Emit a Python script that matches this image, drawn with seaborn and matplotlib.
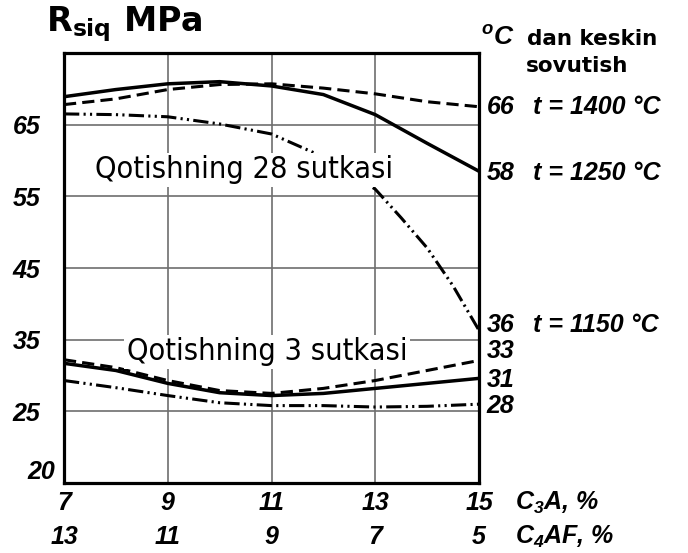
import matplotlib
matplotlib.use('Agg')
import matplotlib.pyplot as plt
import matplotlib.transforms as mtransforms
import seaborn as sns

# C3A content, % (bottom row); C4AF = 20 - C3A (second row)
c3a = [7, 8, 9, 10, 11, 12, 13, 14, 15]
c3a_steep = [7, 8, 9, 10, 11, 12, 13, 13.5, 14, 14.5, 15]
c3a_ticks = [7, 9, 11, 13, 15]
c4af_ticks = [13, 11, 9, 7, 5]
y_ticks = [25, 35, 45, 55, 65]

# strength after 28 days, MPa
r28_1400 = [67.8, 68.6, 69.9, 70.6, 70.7, 70.1, 69.3, 68.2, 67.5]
r28_1250 = [68.9, 69.9, 70.7, 71.0, 70.4, 69.2, 66.4, 62.4, 58.5]
r28_1150 = [66.5, 66.4, 66.1, 65.1, 63.7, 60.5, 56.0, 52.0, 47.8, 42.5, 36.3]

# strength after 3 days, MPa
r3_1400 = [32.2, 31.1, 29.3, 27.9, 27.5, 28.2, 29.3, 30.7, 32.1]
r3_1250 = [31.7, 30.7, 28.9, 27.6, 27.2, 27.5, 28.2, 28.9, 29.6]
r3_1150 = [29.3, 28.3, 27.2, 26.2, 25.8, 25.8, 25.6, 25.7, 26.0]

# end labels (value, text) as printed on the chart
end_values = ['66', '58', '36', '33', '31', '28']
end_y = [67.5, 58.3, 37.0, 33.4, 29.4, 25.8]
temp_labels = ['t = 1400 °C', 't = 1250 °C', 't = 1150 °C']

sns.set_style('white')
plt.rcParams['font.family'] = ['Liberation Sans', 'DejaVu Sans']
plt.rcParams['text.color'] = 'black'
plt.rcParams['xtick.color'] = 'black'
plt.rcParams['ytick.color'] = 'black'
plt.rcParams['mathtext.fontset'] = 'custom'
plt.rcParams['mathtext.rm'] = 'Liberation Sans:bold:italic'
plt.rcParams['mathtext.it'] = 'Liberation Sans:bold:italic'
plt.rcParams['mathtext.sf'] = 'DejaVu Sans:bold'

fig = plt.figure(figsize=(6.88, 5.53), dpi=100)
ax = fig.add_axes([64 / 688, 1 - 483 / 553, 415 / 688, 430 / 553])

solid = '-'
dashed = (0, (4, 2))
dashdot2 = (0, (5, 1.4, 0.7, 1.4, 0.7, 1.4))

sns.lineplot(x=c3a, y=r28_1400, ax=ax, color='black', linewidth=2.2, linestyle=dashed)
sns.lineplot(x=c3a, y=r28_1250, ax=ax, color='black', linewidth=2.5, linestyle=solid)
sns.lineplot(x=c3a_steep, y=r28_1150, ax=ax, color='black', linewidth=2.2, linestyle=dashdot2)
sns.lineplot(x=c3a, y=r3_1400, ax=ax, color='black', linewidth=2.2, linestyle=dashed)
sns.lineplot(x=c3a, y=r3_1250, ax=ax, color='black', linewidth=2.5, linestyle=solid)
sns.lineplot(x=c3a, y=r3_1150, ax=ax, color='black', linewidth=2.2, linestyle=dashdot2)

ax.set_xlim(7, 15)
ax.set_ylim(15, 75)
ax.set_xticks(c3a_ticks)
ax.set_yticks(y_ticks)
ax.grid(True, color='#6e6e6e', linewidth=1.2)
ax.set_axisbelow(True)
for s in ax.spines.values():
    s.set_linewidth(2.3)
    s.set_color('black')

tick_fp = matplotlib.font_manager.FontProperties(family='Liberation Sans', weight='bold', style='italic', size=18)
lab_font = dict(fontfamily='Liberation Sans', fontweight='bold', fontstyle='italic', fontsize=18)
ax.tick_params(axis='both', length=0)
ax.tick_params(axis='x', pad=6)
ax.tick_params(axis='y', pad=17)
for t in ax.get_xticklabels() + ax.get_yticklabels():
    t.set_fontproperties(tick_fp)
ax.set_xlabel('')
ax.set_ylabel('')

# origin label of the strength axis
ax.text(-0.022, 0.025, '20', transform=ax.transAxes, ha='right', va='center', **lab_font)

# second row: C4AF
sec = ax.secondary_xaxis(-0.079, functions=(lambda v: 20 - v, lambda v: 20 - v))
sec.set_xticks(c4af_ticks)
sec.tick_params(length=0, pad=6)
sec.spines['bottom'].set_visible(False)
for t in sec.get_xticklabels():
    t.set_fontproperties(tick_fp)

ax.text(1.087, -0.047, r'$C_3A$, %', transform=ax.transAxes, ha='left', va='center', **lab_font)
ax.text(1.087, -0.126, r'$C_4AF$, %', transform=ax.transAxes, ha='left', va='center', **lab_font)

# labels at the right end of the curves
trans = mtransforms.blended_transform_factory(ax.transAxes, ax.transData)
for v, y in zip(end_values, end_y):
    ax.text(1.019, y, v, transform=trans, ha='left', va='center', clip_on=False, **lab_font)
for lbl, y in zip(temp_labels, end_y[:3]):
    ax.text(1.13, y, lbl, transform=trans, ha='left', va='center', clip_on=False, **lab_font)

# curve group labels
box = dict(facecolor='white', edgecolor='none', pad=2)
ax.text(10.47, 57.5, 'Qotishning 28 sutkasi', ha='center', va='baseline', fontfamily='DejaVu Sans',
        fontstretch='condensed', fontsize=22, bbox=box, zorder=5)
ax.text(10.91, 32.1, 'Qotishning 3 sutkasi', ha='center', va='baseline', fontfamily='DejaVu Sans',
        fontstretch='condensed', fontsize=22, bbox=box, zorder=5)

# headers
fig.text(46 / 688, 1 - 32 / 553, r'R$_\mathsf{siq}$ MPa', fontfamily='DejaVu Sans', fontweight='bold',
         fontsize=24, ha='left', va='baseline')
fig.text(481 / 688, 1 - 45 / 553, r'$^o$C', fontsize=19, fontweight='bold', fontstyle='italic',
         ha='left', va='baseline')
fig.text(527 / 688, 1 - 45 / 553, 'dan keskin', fontfamily='DejaVu Sans', fontweight='bold',
         fontsize=15.5, ha='left', va='baseline')
fig.text(526 / 688, 1 - 72 / 553, 'sovutish', fontfamily='DejaVu Sans', fontweight='bold',
         fontsize=15.5, ha='left', va='baseline')

fig.savefig('out.png', dpi=100, facecolor='white')
